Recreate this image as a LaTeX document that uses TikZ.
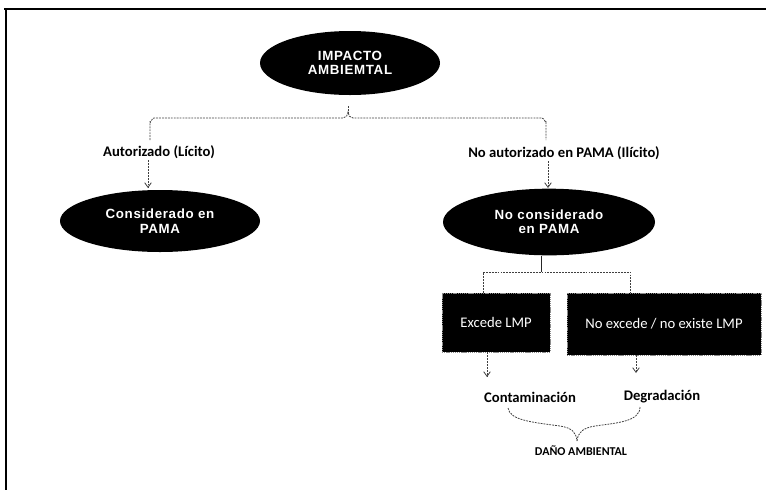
\documentclass[tikz,border=0pt]{standalone}
\usepackage{fontspec}
\setmainfont{Carlito}
\newfontfamily\ellfont[LetterSpace=5]{Liberation Sans}
\usetikzlibrary{shapes.geometric,arrows.meta}
\tikzset{
  ell/.style={ellipse, fill=black, text=white, align=center, inner sep=0pt,
    font=\ellfont\bfseries\fontsize{10}{10.8}\selectfont},
  blk/.style={rectangle, fill=black, draw=black!45, dash pattern=on 1pt off 0.6pt, line width=0.6pt,
    text=white, inner sep=0pt, font=\fontsize{11}{13}\selectfont},
  lbl/.style={inner sep=1pt, font=\bfseries\fontsize{11}{13}\selectfont},
  con/.style={draw=black!75, dash pattern=on 1.4pt off 0.8pt, line width=0.6pt},
  arr/.style={con, -{Straight Barb[length=3.5pt,width=5pt]}},
  frame/.style={draw=black, line width=1.3pt}
}
\begin{document}
\begin{tikzpicture}[x=0.75pt,y=-0.75pt]
\useasboundingbox (0,0) rectangle (766,490);
% frame
\coordinate (f1) at (4,9);
\coordinate (f2) at (766,9);
\coordinate (f3) at (6,9);
\coordinate (f4) at (6,490);
\draw[frame] (f1) -- (f2);
\draw[frame] (f3) -- (f4);

% nodes
\node[ell, minimum width=135pt, minimum height=48pt] (imp) at (350,63) {IMPACTO\\AMBIEMTAL};
\node[lbl] (auto) at (159,152) {Autorizado (Lícito)};
\node[lbl] (noauto) at (564,153) {No autorizado en PAMA (Ilícito)};
\node[ell, minimum width=150pt, minimum height=46.5pt] (cons) at (160,221) {Considerado en\\PAMA};
\node[ell, minimum width=159pt, minimum height=50pt] (nocons) at (549,222) {No considerado\\en PAMA};
\node[blk, minimum width=81pt, minimum height=44.25pt] (exc) at (496,322.5) {Excede LMP};
\node[blk, minimum width=145.5pt, minimum height=46.5pt] (noexc) at (664,324) {No excede / no existe LMP};
\node[lbl] (cont) at (530,397) {Contaminación};
\node[lbl] (degr) at (662,397) {Degradación};
\node[inner sep=1pt, font=\bfseries\fontsize{9}{11}\selectfont] (dano) at (581,451) {DAÑO AMBIENTAL};

% top bracket
\coordinate (s0) at (348,106);
\coordinate (s1) at (348,112);
\coordinate (bl) at (150,140);
\coordinate (br) at (546,140);
\draw[con] (s0) -- (s1);
\draw[con] (bl) -- (150,122) to[out=-90,in=180] (154,118) -- (343,118)
  to[out=0,in=-90] (s1) to[out=-90,in=180] (353,118) -- (542,118)
  to[out=0,in=-90] (546,122) -- (br);

% arrows to ellipses
\coordinate (a1) at (148,188);
\coordinate (a2) at (548,188);
\draw[arr] (auto.south -| a1) -- (a1);
\draw[arr] (noauto.south -| a2) -- (a2);

% lower bracket
\coordinate (t0) at (541,272);
\coordinate (tl) at (483,272);
\coordinate (tr) at (630,272);
\draw[line width=0.7pt, draw=black!85] (nocons.south -| t0) -- (t0);
\draw[con] (exc.north -| tl) -- (tl) -- (tr) -- (noexc.north -| tr);

% arrows to outcomes
\coordinate (c1) at (487,377);
\coordinate (c2) at (636,373);
\draw[arr] (exc.south -| c1) -- (c1);
\draw[arr] (noexc.south -| c2) -- (c2);

% brace
\coordinate (bL) at (508,408);
\coordinate (bR) at (640,407);
\coordinate (bT) at (577,441);
\draw[con] (bL) .. controls (510,420) and (530,422) .. (560,426)
  .. controls (572,428) and (576,432) .. (bT);
\draw[con] (bR) .. controls (640,422) and (615,423) .. (595,426)
  .. controls (583,428) and (578,432) .. (bT);
\end{tikzpicture}
\end{document}
